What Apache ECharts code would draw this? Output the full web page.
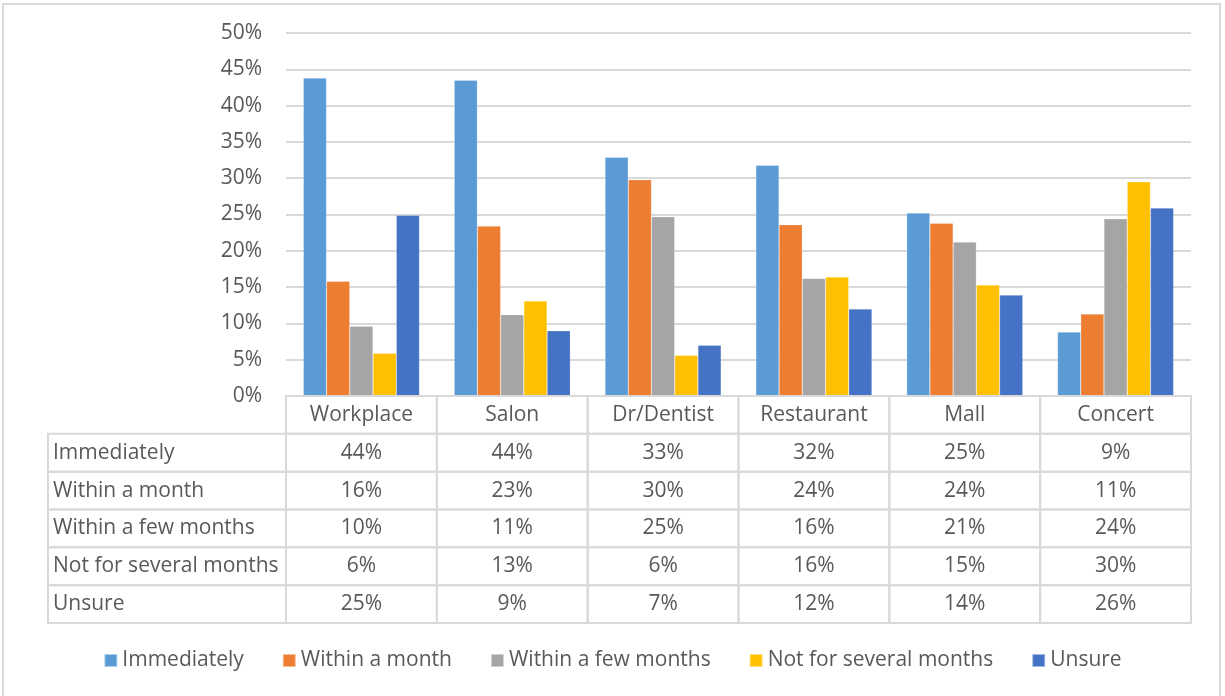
<!DOCTYPE html>
<html>
<head>
<meta charset="utf-8">
<script src="https://cdn.jsdelivr.net/npm/echarts@6/dist/echarts.min.js"></script>
<style>
    html, body { margin: 0; padding: 0; background: #fff; }
    #main { width: 1225px; height: 696px; }
</style>
</head>
<body>
<div id="main"></div>
<script>
// 数据
var categories = ['Workplace', 'Salon', 'Dr/Dentist', 'Restaurant', 'Mall', 'Concert'];
var seriesNames = ['Immediately', 'Within a month', 'Within a few months', 'Not for several months', 'Unsure'];
var immediately = [43.8, 43.5, 32.9, 31.8, 25.2, 8.8];
var withinMonth = [15.8, 23.4, 29.8, 23.6, 23.8, 11.3];
var withinFewMonths = [9.6, 11.2, 24.7, 16.2, 21.2, 24.4];
var notForSeveral = [5.9, 13.1, 5.6, 16.4, 15.3, 29.5];
var unsure = [24.9, 9.0, 7.0, 12.0, 13.9, 25.9];
var yTicks = [0, 5, 10, 15, 20, 25, 30, 35, 40, 45, 50];

var allValues = [immediately, withinMonth, withinFewMonths, notForSeveral, unsure];
var colors = ['#5B9BD5', '#ED7D31', '#A5A5A5', '#FFC000', '#4472C4'];

var font = 'Open Sans';
var fontSize = 21;
var textColor = '#595959';
var lineColor = '#d9d9d9';
var labelColW = 238; // 表格左侧名称列宽

// 表格行: 表头 + 5个系列
var tableRows = ['header'].concat(seriesNames);
var tableData = tableRows.map(function (r, i) { return [0, i]; });

function renderRow(params, api) {
    var row = api.value(1);
    var children = [];
    var size = api.size([1, 1]);
    var w = size[0], h = size[1];
    for (var c = 0; c < categories.length; c++) {
        var pt = api.coord([c, row]);
        var txt = row === 0 ? categories[c] : Math.round(allValues[row - 1][c]) + '%';
        children.push({
            type: 'rect',
            shape: {x: pt[0] - w / 2, y: pt[1] - h / 2, width: w, height: h},
            style: {fill: 'none', stroke: lineColor, lineWidth: 2}
        });
        children.push({
            type: 'text',
            x: pt[0], y: pt[1],
            style: {text: txt, fill: textColor, font: fontSize + 'px ' + font, align: 'center', verticalAlign: 'middle'}
        });
    }
    if (row > 0) {
        var p0 = api.coord([0, row]);
        var left = p0[0] - w / 2 - labelColW;
        children.push({
            type: 'rect',
            shape: {x: left, y: p0[1] - h / 2, width: labelColW, height: h},
            style: {fill: 'none', stroke: lineColor, lineWidth: 2}
        });
        children.push({
            type: 'text',
            x: left + 5, y: p0[1],
            style: {text: seriesNames[row - 1], fill: textColor, font: fontSize + 'px ' + font, align: 'left', verticalAlign: 'middle'}
        });
    }
    return {type: 'group', children: children};
}

var series = seriesNames.map(function (name, i) {
    return {
        name: name,
        type: 'bar',
        xAxisIndex: 0,
        yAxisIndex: 0,
        data: allValues[i],
        barGap: '0%',
        barCategoryGap: '23%',
        itemStyle: {color: colors[i], borderColor: 'rgba(255,255,255,0.5)', borderWidth: 0.5}
    };
});
series.push({
    type: 'custom',
    xAxisIndex: 1,
    yAxisIndex: 1,
    renderItem: renderRow,
    encode: {x: 0, y: 1},
    data: tableData,
    silent: true,
    z: 5
});

var option = {
    backgroundColor: '#fff',
    animation: false,
    textStyle: {fontFamily: font, color: textColor},
    graphic: [{
        type: 'rect',
        shape: {x: 3, y: 4, width: 1217, height: 700},
        style: {fill: 'none', stroke: '#d9d9d9', lineWidth: 2},
        silent: true
    }],
    legend: {
        data: seriesNames,
        top: 645,
        left: 'center',
        icon: 'rect',
        itemWidth: 13,
        itemHeight: 13,
        itemGap: 38,
        textStyle: {fontFamily: font, fontSize: fontSize, color: textColor}
    },
    grid: [
        {left: 286, right: 34, top: 33, bottom: 300},
        {left: 286, right: 34, top: 396, height: 227}
    ],
    xAxis: [{
        gridIndex: 0,
        type: 'category',
        data: categories,
        axisLine: {lineStyle: {color: lineColor, width: 2}},
        axisTick: {show: false},
        axisLabel: {show: false}
    }, {
        gridIndex: 1,
        type: 'category',
        data: categories,
        show: false
    }],
    yAxis: [{
        gridIndex: 0,
        type: 'value',
        min: yTicks[0],
        max: yTicks[yTicks.length - 1],
        interval: 5,
        axisLine: {show: false},
        axisTick: {show: false},
        axisLabel: {
            fontFamily: font,
            fontSize: fontSize,
            color: textColor,
            margin: 24,
            formatter: function (v) { return v + '%'; }
        },
        splitLine: {lineStyle: {color: lineColor, width: 2}}
    }, {
        gridIndex: 1,
        type: 'category',
        data: tableRows,
        inverse: true,
        show: false
    }],
    series: series
};

var myChart = echarts.init(document.getElementById('main'));
myChart.setOption(option);
</script>
</body>
</html>
